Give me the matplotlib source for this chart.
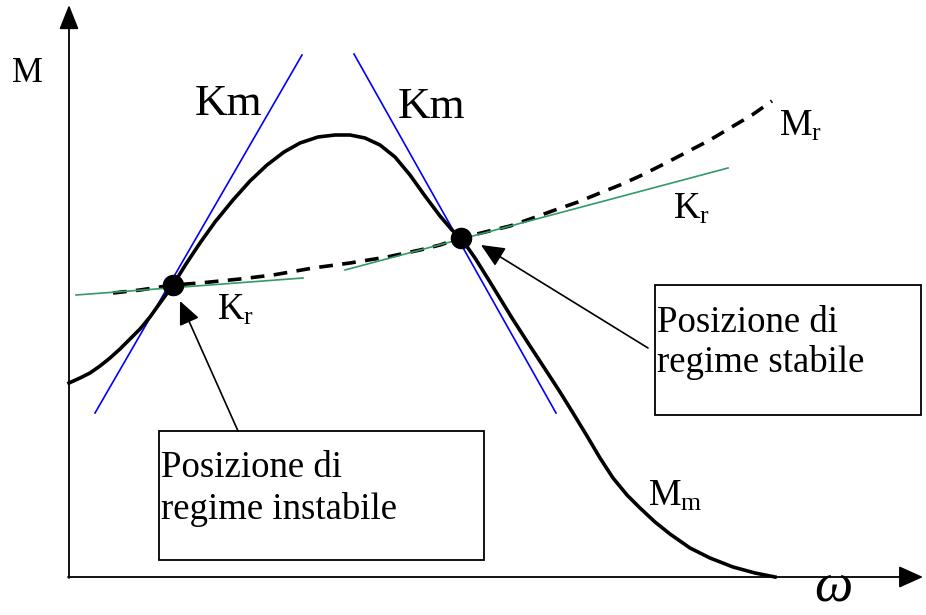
import matplotlib.pyplot as plt

plt.rcParams['font.family'] = ['Liberation Serif', 'DejaVu Serif']
plt.rcParams['mathtext.fontset'] = 'custom'
plt.rcParams['mathtext.rm'] = 'Liberation Serif'
plt.rcParams['mathtext.it'] = 'Liberation Serif:italic'

# curves (pixel space, y grows downward)
mm_x = [69, 80, 90, 100, 110, 120, 130, 140, 150, 160, 173, 186, 200, 215,
        233, 250, 267, 284, 300, 318, 335, 350, 365, 380, 395, 410, 425, 440,
        452, 461, 475, 490, 512, 530, 547, 560, 573, 587, 600, 613, 627, 640,
        655, 670, 690, 710, 733, 755, 775]
mm_y = [383, 378, 373, 366, 358, 349, 339, 329, 317, 303, 285, 264, 243, 222,
        200, 181, 165, 152, 143, 137, 135, 135, 138, 145, 157, 175, 196, 216,
        230, 238, 258, 282, 318, 346, 372, 392, 413, 436, 458, 478, 495, 508,
        522, 534, 548, 558, 567, 573, 577]

mr_x = [113, 140, 173, 200, 240, 273, 313, 350, 387, 420, 440, 461, 485, 510,
        533, 555, 578, 600, 620, 640, 664, 687, 710, 730, 752, 772]
mr_y = [293, 290, 285, 283, 279, 275, 268, 263, 257, 250, 245, 238, 232, 226,
        218, 210, 202, 193, 185, 176, 164, 152, 140, 128, 115, 101]

# tangent segments (x0, y0, x1, y1)
km_left = (95, 413, 302, 55)
km_right = (354, 54, 556, 413)
kr_left = (76, 295, 303, 278)
kr_right = (345, 270, 728, 168)

# equilibrium points
eq_x = [173, 461]
eq_y = [285, 238]

fig = plt.figure(figsize=(9.26, 6.15), dpi=100)
ax = fig.add_axes([0, 0, 1, 1])
ax.set_xlim(0, 926)
ax.set_ylim(615, 0)
ax.axis('off')

# axes with arrows
ax.annotate('', xy=(69, 5), xytext=(69, 578),
            arrowprops=dict(arrowstyle='-|>,head_length=1.0,head_width=0.4',
                            mutation_scale=15, lw=1.3, color='black',
                            shrinkA=0, shrinkB=0))
ax.annotate('', xy=(923, 577), xytext=(68, 577),
            arrowprops=dict(arrowstyle='-|>,head_length=1.0,head_width=0.45',
                            mutation_scale=15, lw=1.3, color='black',
                            shrinkA=0, shrinkB=0))

# tangents
for seg in (km_left, km_right):
    ax.plot([seg[0], seg[2]], [seg[1], seg[3]], color='#0000ff', lw=1.2, zorder=2)
for seg in (kr_left, kr_right):
    ax.plot([seg[0], seg[2]], [seg[1], seg[3]], color='#339966', lw=1.2, zorder=3)

# motor and load torque curves
ax.plot(mm_x, mm_y, color='black', lw=2.6, solid_joinstyle='round', zorder=4)
ax.plot(mr_x, mr_y, color='black', lw=2.6, dashes=(3.8, 2.6), zorder=2.5)

ax.plot(eq_x, eq_y, 'o', color='black', markersize=14.5, zorder=5)

# boxes
ax.add_patch(plt.Rectangle((159, 431), 325, 129, fill=False, lw=1.3, ec='black'))
ax.add_patch(plt.Rectangle((655, 285), 266, 130, fill=False, lw=1.3, ec='black'))

# annotation arrows
arr = dict(arrowstyle='-|>,head_length=0.8,head_width=0.36', mutation_scale=18,
           lw=1.2, color='black', shrinkA=0, shrinkB=0)
ax.annotate('', xy=(180, 301), xytext=(238, 431), arrowprops=arr)
ax.annotate('', xy=(481, 245), xytext=(648, 348), arrowprops=arr)

# labels
ax.text(12, 82, 'M', fontsize=25, va='baseline')
ax.text(195, 115, 'Km', fontsize=32.5, va='baseline')
ax.text(398, 118, 'Km', fontsize=32.5, va='baseline')
ax.text(779, 136, r'$\mathrm{M}_\mathrm{r}$', fontsize=26.5, va='baseline')
ax.text(673, 219, r'$\mathrm{K}_\mathrm{r}$', fontsize=26.5, va='baseline')
ax.text(217, 320, r'$\mathrm{K}_\mathrm{r}$', fontsize=26.5, va='baseline')
ax.text(648, 506, r'$\mathrm{M}_\mathrm{m}$', fontsize=26.5, va='baseline')
ax.text(814, 614, 'ω', fontsize=39, style='italic', va='bottom')

ax.text(161, 477, 'Posizione di', fontsize=26.5, va='baseline')
ax.text(161, 519, 'regime instabile', fontsize=26.5, va='baseline')
ax.text(657, 332, 'Posizione di', fontsize=26.5, va='baseline')
ax.text(657, 372, 'regime stabile', fontsize=26.5, va='baseline')

fig.savefig('out.png', dpi=100)
